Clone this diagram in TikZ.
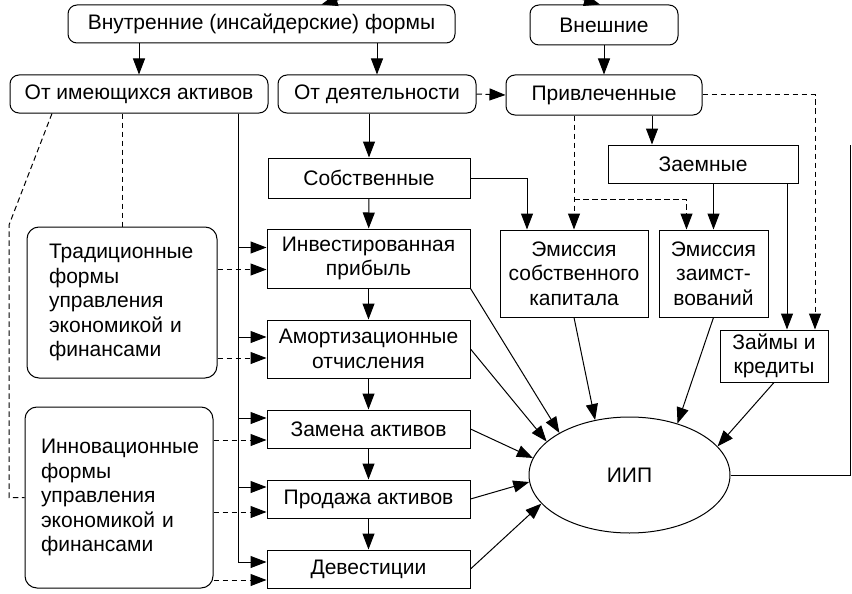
\documentclass[tikz,border=0pt]{standalone}
\usepackage{fontspec}
\setmainfont{Liberation Sans}
\usetikzlibrary{shapes.geometric,arrows.meta,positioning}

\begin{document}
\begin{tikzpicture}[
    x=1pt, y=-1pt,
    font=\fontsize{21}{24.5}\selectfont,
    line width=1pt,
    rbox/.style={draw,rounded corners=9pt,inner sep=0pt,align=center},
    sbox/.style={draw,inner sep=0pt,align=center},
    fbox/.style={draw,rounded corners=12pt,align=left,inner ysep=0pt},
    arrow/.style={-{Triangle[length=16pt,width=12pt]}},
    dline/.style={dash pattern=on 5.5pt off 3.5pt}
  ]
    \useasboundingbox (0,0) rectangle (852,594);
    \clip (0,0) rectangle (852,594);

    % Sources
    \coordinate (top) at (462,-35);
    \node[rbox,minimum width=387pt,minimum height=38pt] (inner) at (261.5,24) {Внутренние (инсайдерские) формы};
    \node[rbox,minimum width=148pt,minimum height=40pt] (outer) at (604,25) {Внешние};
    \node[rbox,minimum width=258pt,minimum height=38pt] (assets) at (139,94) {От имеющихся активов};
    \node[rbox,minimum width=198pt,minimum height=38pt] (activity) at (377,94) {От деятельности};
    \node[rbox,minimum width=196pt,minimum height=40pt] (attracted) at (604,95) {Привлеченные};

    % Own sources
    \node[sbox,minimum width=202pt,minimum height=40pt] (own) at (369,178) {Собственные};
    \node[sbox,minimum width=203pt,minimum height=59pt] (profit) at (368.5,258.5) {Инвестированная\\прибыль};
    \node[sbox,minimum width=203pt,minimum height=58pt] (amort) at (368.5,349) {Амортизационные\\отчисления};
    \node[sbox,minimum width=203pt,minimum height=38pt] (replace) at (368.5,429) {Замена активов};
    \node[sbox,minimum width=203pt,minimum height=38pt] (sale) at (368.5,499) {Продажа активов};
    \node[sbox,minimum width=203pt,minimum height=38pt] (divest) at (368.5,569) {Девестиции};

    % Attracted sources
    \node[sbox,minimum width=190pt,minimum height=38pt] (borrowed) at (703,164) {Заемные};
    \node[sbox,minimum width=148pt,minimum height=87pt] (equity) at (574,273.5) {Эмиссия\\собственного\\капитала};
    \node[sbox,minimum width=109pt,minimum height=87pt] (debtiss) at (713.5,273.5) {Эмиссия\\заимст-\\вований};
    \node[sbox,minimum width=108pt,minimum height=52pt] (loans) at (774,356) {Займы и\\кредиты};

    % Forms of management
    \node[fbox,inner xsep=22pt,text width=146pt,minimum height=151pt] (trad) at (122,302.5) {Традиционные\\формы\\управления\\экономикой и\\финансами};
    \node[fbox,inner xsep=16pt,text width=156pt,minimum height=181pt] (innov) at (119,497.5) {Инновационные\\формы\\управления\\экономикой и\\финансами};

    \node[draw,ellipse,minimum width=201pt,minimum height=116pt,inner sep=0pt] (iip) at (629.5,475) {ИИП};

    % Arrows
    \draw[arrow] (top) -- ([xshift=60pt]inner.north);
    \draw[arrow] (top) -- ([xshift=-4pt]outer.north);
    \draw[arrow] (inner.south -| assets.north) -- (assets.north);
    \draw[arrow] (inner.south -| activity.north) -- (activity.north);
    \draw[arrow] (outer) -- (attracted);
    \draw[arrow,dline] (activity.east) -- (attracted.west);
    \draw[arrow] (activity.south -| own.north) -- (own.north);
    \draw[arrow] ([xshift=48pt]attracted.south) -- ([xshift=-51pt]borrowed.north);
    \draw[arrow] (own.east) -| ([xshift=-47pt]equity.north);
    \draw[arrow,dline] (attracted.south -| equity.north) -- (equity.north);
    \draw[arrow,dline] ([yshift=30pt]equity.north) -| ([xshift=-27pt]debtiss.north);
    \draw[arrow] (borrowed.south -| debtiss.north) -- (debtiss.north);
    \draw[arrow] ([xshift=84pt]borrowed.south) -- ([xshift=13pt]loans.north);
    \draw[arrow,dline] (attracted.east) -| ([xshift=41pt]loans.north);

    \draw[dline] (assets.south -| trad.north) -- (trad.north);
    \coordinate (bend) at (9,225);
    \draw[dline] ([xshift=-87pt]assets.south) -- (bend) |- (innov.west);

    \coordinate (trunk) at ([xshift=99pt]assets.south);
    \foreach \b/\s in {profit/11,amort/12,replace/11,sale/12,divest/7}
      \draw[arrow] (trunk) |- ([yshift=\s pt]\b.west);
    \foreach \b/\f/\s in {profit/trad/-11,amort/trad/-9,replace/innov/-11,sale/innov/-13,divest/innov/-11} {
      \path ([yshift=\s pt]\b.west) coordinate (t);
      \draw[arrow,dline] (\f.east |- t) -- (t);
    }

    \draw[arrow] (own) -- (profit);
    \draw[arrow] (profit) -- (amort);
    \draw[arrow] (amort) -- (replace);
    \draw[arrow] (replace) -- (sale);
    \draw[arrow] (sale) -- (divest);

    \draw[arrow] (profit.south east) -- (iip.149);
    \draw[arrow] (amort.east) -- (iip.158);
    \draw[arrow] (replace.east) -- (iip.170);
    \draw[arrow] (sale.east) -- (iip.184);
    \draw[arrow] (divest.east) -- (iip.198);
    \draw[arrow] (equity.south) -- (iip.122);
    \draw[arrow] (debtiss.south) -- (iip.47);
    \draw[arrow] (loans.south) -- (iip.18);

    \coordinate (loopend) at (850,145);
    \draw (iip.east) -| (loopend);
\end{tikzpicture}
\end{document}
